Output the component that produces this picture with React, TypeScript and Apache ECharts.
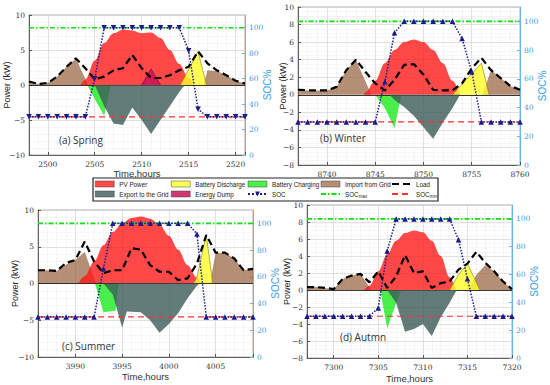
import React, { useEffect, useRef } from "react";
import * as echarts from "echarts";

type Pt = [number, number];

// ---------- (a) Spring, hours 2498..2521 ----------
const springStart = 2498;
const springLoad = [0.5, 0.15, 0.3, 1.2, 2.6, 3.8, 2.4, 0.8, 1.2, 2.1, 2.4, 4.3, 2.4, 1.0, 1.0, 1.4, 2.1, 2.6, 4.8, 3.1, 2.1, 1.4, 0.6, 0.2];
const springSOC = [30, 30, 30, 30, 30, 30, 30, 60, 100, 100, 100, 100, 100, 100, 100, 100, 100, 82, 36, 30, 30, 30, 30, 30];
const springPV: Pt[] = [[2503.5, 0], [2504, 0.8], [2505, 3.5], [2506, 6.0], [2507, 7.4], [2508, 7.9], [2509, 7.8], [2510, 7.4], [2511, 7.5], [2512, 6.7], [2513, 5.0], [2514, 3.0], [2515, 1.0], [2515.6, 0]];
const springImport: Pt[] = [[2498, 0.5], [2499, 0.15], [2500, 0.3], [2501, 1.2], [2502, 2.6], [2503, 3.8], [2504.3, 0], [2516.6, 0], [2517, 2.1], [2518, 2.0], [2519, 1.4], [2520, 0.6], [2521, 0.2]];
const springDischarge: Pt[] = [[2514.1, 0], [2515, 2.2], [2516, 4.8], [2516.9, 0]];
const springCharge: Pt[] = [[2504.2, 0], [2505, -2.0], [2506, -4.4], [2506.7, 0]];
const springExport: Pt[] = [[2505, 0], [2506, -3.0], [2507, -5.5], [2508, -5.7], [2509, -3.2], [2510, -5.0], [2511, -7.0], [2512, -5.0], [2513, -3.0], [2514, -1.0], [2514.6, 0]];
const springDump: Pt[] = [[2510, 0], [2511, 2.3], [2512, 0]];

// ---------- (b) Winter, hours 8737..8760 ----------
const winterStart = 8737;
const winterLoad = [0.57, 0.5, 0.5, 0.5, 0.9, 2.8, 4.0, 2.6, 1.3, 0.5, 1.7, 3.4, 3.5, 2.3, 0.57, 0.5, 0.5, 1.3, 3.0, 4.2, 2.8, 1.9, 1.0, 0.57];
const winterSOC = [30, 30, 30, 30, 30, 30, 30, 30, 30, 58, 92, 100, 100, 100, 100, 100, 100, 88, 65, 30, 30, 30, 30, 30];
const winterPV: Pt[] = [[8743.8, 0], [8744, 0.3], [8745, 1.6], [8746, 3.6], [8747, 5.1], [8748, 6.0], [8749, 6.3], [8750, 6.0], [8751, 5.1], [8752, 3.6], [8753, 1.6], [8753.8, 0]];
const winterImport: Pt[] = [[8737, 0.57], [8738, 0.5], [8739, 0.5], [8740, 0.5], [8741, 0.9], [8742, 2.8], [8743, 4.0], [8744.6, 0], [8756.1, 0], [8757, 2.8], [8758, 1.9], [8759, 1.0], [8760, 0.57]];
const winterDischarge: Pt[] = [[8753, 0], [8754, 1.2], [8755, 2.4], [8756, 3.6], [8756.8, 0]];
const winterCharge: Pt[] = [[8745, 0], [8746, -1.5], [8747, -3.8], [8747.7, 0]];
const winterExport: Pt[] = [[8746.5, 0], [8747, -0.6], [8748, -1.4], [8749, -2.4], [8750, -3.7], [8751, -5.0], [8752, -3.2], [8753, -1.5], [8753.8, 0]];

// ---------- (c) Summer, hours 3986..4009 ----------
const summerStart = 3986;
const summerLoad = [1.8, 1.8, 1.7, 2.8, 3.2, 5.7, 3.0, 1.4, 1.8, 1.8, 4.8, 4.6, 2.5, 1.6, 1.6, 0.45, 0.7, 2.7, 6.6, 4.2, 4.2, 3.4, 1.8, 2.0];
const summerSOC = [30, 30, 30, 30, 30, 30, 30, 66, 100, 100, 100, 100, 100, 100, 100, 100, 100, 92, 30, 30, 30, 30, 30, 30];
const summerPV: Pt[] = [[3990.3, 0], [3991, 1.0], [3992, 3.0], [3993, 5.2], [3994, 7.0], [3995, 8.2], [3996, 8.9], [3997, 9.1], [3998, 8.8], [3999, 8.0], [4000, 6.5], [4001, 4.6], [4002, 2.5], [4003, 0.8], [4003.5, 0]];
const summerImport: Pt[] = [[3986, 1.8], [3987, 1.8], [3988, 1.7], [3989, 2.6], [3990, 3.2], [3991, 4.3], [3992.2, 0], [4004.4, 0], [4005, 4.2], [4006, 4.2], [4007, 3.4], [4008, 1.8], [4009, 2.0]];
const summerDischarge: Pt[] = [[4002.6, 0], [4003, 0.8], [4004, 6.6], [4004.7, 0]];
const summerCharge: Pt[] = [[3992.1, 0], [3993, -3.9], [3994.3, -3.7], [3994.6, 0]];
const summerExport: Pt[] = [[3993, 0], [3994, -1.5], [3995, -6.0], [3995.5, -3.8], [3997, -3.9], [3998, -5.0], [3999, -6.7], [4000, -5.5], [4001, -4.0], [4002, -2.0], [4003, -0.3], [4003.3, 0]];

// ---------- (d) Autumn, hours 7297..7320 ----------
const autumnStart = 7297;
const autumnLoad = [0.35, 0.35, 0.25, 0.1, 1.3, 1.7, 1.9, 0.9, 2.2, 0.25, 1.6, 4.1, 2.0, 2.2, 0.25, 0.8, 1.0, 2.4, 3.1, 4.5, 3.2, 2.2, 1.0, 0.1];
const autumnSOC = [30, 30, 30, 30, 30, 30, 30, 30, 36, 77, 100, 100, 100, 100, 100, 100, 100, 85, 57, 30, 30, 30, 30, 30];
const autumnPV: Pt[] = [[7303.4, 0], [7304, 0.5], [7305, 2.2], [7306, 4.2], [7307, 5.8], [7308, 6.7], [7309, 7.0], [7310, 6.8], [7311, 5.8], [7312, 4.0], [7313, 1.5], [7313.7, 0]];
const autumnImport: Pt[] = [[7297, 0.35], [7298, 0.35], [7299, 0.25], [7300, 0.1], [7301, 1.3], [7302, 1.7], [7303, 1.9], [7304.2, 0], [7315.1, 0], [7316, 1.8], [7317, 2.9], [7318, 2.2], [7319, 1.0], [7320, 0.1]];
const autumnDischarge: Pt[] = [[7313, 0], [7314, 1.8], [7315, 3.1], [7316.4, 0]];
const autumnCharge: Pt[] = [[7305.2, 0], [7306, -4.5], [7307, -1.5], [7307.6, 0]];
const autumnExport: Pt[] = [[7306, 0], [7307, -1.5], [7308, -4.9], [7309, -4.6], [7310, -4.0], [7311, -5.4], [7312, -3.2], [7313, -1.5], [7313.8, 0]];

// SOC limits (%)
const socMaxLevel = 100;
const socMinLevel = 30;

// x tick label step (hours)
const xTickStep = 5;

// legend layout (names)
const legendColumns = [
  ["PV Power", "Export to the Grid"],
  ["Battery Discharge", "Energy Dump"],
  ["Battery Charging", "SOC"],
  ["Import from Grid", "SOCmax"],
  ["Load", "SOCmin"],
];
const areaNames = ["PV Power", "Export to the Grid", "Battery Discharge", "Energy Dump", "Battery Charging", "Import from Grid"];
const plainLineNames = ["Load", "SOCmax", "SOCmin"];

const COL = {
  pv: "rgba(255,20,20,0.78)",
  dis: "rgba(255,255,40,0.8)",
  chg: "rgba(30,235,30,0.8)",
  imp: "rgba(150,95,60,0.7)",
  exp: "rgba(60,90,87,0.8)",
  dump: "rgba(200,20,90,0.85)",
  soc: "#1a1a8a",
  load: "#000",
  socMax: "#10e010",
  socMin: "#ff3030",
  blue: "#3d9be0",
};

const panels = [
  {
    label: "(a) Spring", start: springStart, load: springLoad, soc: springSOC, pv: springPV, imp: springImport,
    dis: springDischarge, chg: springCharge, exp: springExport, dump: springDump as Pt[] | null, rot: 180,
    yMin: -10, yMax: 10, yInt: 5, yMinor: 5,
    grid: { left: 29, top: 15, width: 216, height: 140 }, lGap: 18, rGap: 17, xName: "Time,hours", xGap: 13, lab: [59, 140],
  },
  {
    label: "(b) Winter", start: winterStart, load: winterLoad, soc: winterSOC, pv: winterPV, imp: winterImport,
    dis: winterDischarge, chg: winterCharge, exp: winterExport, dump: null, rot: 0,
    yMin: -8, yMax: 10, yInt: 2, yMinor: 4,
    grid: { left: 298, top: 7, width: 222, height: 158 }, lGap: 11, rGap: 17, xName: "", xGap: 13, lab: [320, 138],
  },
  {
    label: "(c) Summer", start: summerStart, load: summerLoad, soc: summerSOC, pv: summerPV, imp: summerImport,
    dis: summerDischarge, chg: summerCharge, exp: summerExport, dump: null, rot: 0,
    yMin: -10, yMax: 10, yInt: 5, yMinor: 5,
    grid: { left: 38, top: 210, width: 215, height: 147 }, lGap: 19, rGap: 17, xName: "Time,hours", xGap: 14, lab: [62, 346],
  },
  {
    label: "(d) Autmn", start: autumnStart, load: autumnLoad, soc: autumnSOC, pv: autumnPV, imp: autumnImport,
    dis: autumnDischarge, chg: autumnCharge, exp: autumnExport, dump: null, rot: 0,
    yMin: -8, yMax: 10, yInt: 2, yMinor: 4,
    grid: { left: 307, top: 205, width: 205, height: 153 }, lGap: 16, rGap: 17, xName: "Time,hours", xGap: 15, lab: [340, 337],
  },
];

const minus = (v: number) => (v < 0 ? "\u2212" + Math.abs(v) : String(v));

function buildOption() {
  const grid: any[] = [];
  const xAxis: any[] = [];
  const yAxis: any[] = [];
  const series: any[] = [];
  const graphic: any[] = [];

  panels.forEach((p, i) => {
    const end = p.start + p.load.length - 1;
    const hourly = (vals: number[]) => vals.map((v, k) => [p.start + k, v]);
    grid.push({ ...p.grid, show: true, borderColor: "#9a9a9a", borderWidth: 0.8, backgroundColor: "#fff" });
    xAxis.push({
      type: "value", gridIndex: i, min: p.start, max: end,
      name: p.xName, nameLocation: "middle", nameGap: p.xGap, nameMoveOverlap: false,
      nameTextStyle: { fontFamily: "Liberation Sans", fontSize: 9.5, color: "#333" },
      axisLine: { show: true, onZero: false, lineStyle: { color: "#555", width: 0.9 } },
      axisTick: { show: true, inside: true, length: 3, lineStyle: { color: "#555" } },
      axisLabel: {
        showMinLabel: true, showMaxLabel: true, fontFamily: "DejaVu Serif", fontSize: 7.5, color: "#333", margin: 5,
        formatter: (v: number) => (Math.abs(v % xTickStep) < 1e-6 ? String(v) : ""),
      },
      splitLine: { show: true, lineStyle: { color: "#d2d2d2", width: 0.7 } },
      minorTick: { show: false, splitNumber: 5 },
      minorSplitLine: { show: true, lineStyle: { color: "#e0e0e0", width: 0.6, type: "dotted" } },
    });
    yAxis.push({
      type: "value", gridIndex: i, position: "left", min: p.yMin, max: p.yMax, interval: p.yInt,
      name: "Power (kW)", nameLocation: "middle", nameGap: p.lGap, nameRotate: 90, nameMoveOverlap: false,
      nameTextStyle: { fontFamily: "Liberation Sans", fontSize: 9, color: "#222" },
      axisLine: { show: true, onZero: false, lineStyle: { color: "#555", width: 0.9 } },
      axisTick: { show: true, inside: true, length: 3, lineStyle: { color: "#555" } },
      axisLabel: { fontFamily: "DejaVu Serif", fontSize: 7.5, color: "#333", margin: 4, formatter: minus },
      splitLine: { show: true, lineStyle: { color: "#d2d2d2", width: 0.7 } },
      minorTick: { show: false, splitNumber: p.yMinor },
      minorSplitLine: { show: true, lineStyle: { color: "#e0e0e0", width: 0.6, type: "dotted" } },
    });
    yAxis.push({
      type: "value", gridIndex: i, position: "right", min: 0, max: 110, interval: 20,
      name: "SOC%", nameLocation: "middle", nameGap: p.rGap, nameRotate: 90, nameMoveOverlap: false,
      nameTextStyle: { fontFamily: "Liberation Sans", fontSize: 10, color: COL.blue },
      axisLine: { show: true, onZero: false, lineStyle: { color: "#6ab4ea", width: 1 } },
      axisTick: { show: true, inside: true, length: 3, lineStyle: { color: "#6ab4ea" } },
      axisLabel: { showMaxLabel: false, fontFamily: "DejaVu Serif", fontSize: 7.5, color: COL.blue, margin: 4 },
      splitLine: { show: false },
    });

    const L = 2 * i, R = 2 * i + 1;
    const area = (name: string, data: any[], color: string, z: number, extra: any = {}) => ({
      type: "line", name, data, xAxisIndex: i, yAxisIndex: L, symbol: "none", z,
      itemStyle: { color }, lineStyle: { width: 0 }, areaStyle: { color, opacity: 1 }, ...extra,
    });
    series.push(area("Import from Grid", p.imp, COL.imp, 2));
    series.push(area("PV Power", p.pv, COL.pv, 3, { smooth: 0.35, smoothMonotone: "x" }));
    series.push(area("Battery Discharge", p.dis, COL.dis, 4, { lineStyle: { width: 0.6, color: "#8a7a00" } }));
    series.push(area("Battery Charging", p.chg, COL.chg, 4));
    series.push(area("Export to the Grid", p.exp, COL.exp, 5, {
      markLine: {
        silent: true, symbol: ["none", "none"], label: { show: false },
        lineStyle: { color: "#222", width: 0.9, type: "solid" }, data: [{ yAxis: 0 }],
      },
    }));
    if (p.dump) series.push(area("Energy Dump", p.dump, COL.dump, 6, { lineStyle: { width: 0.6, color: "#700030" } }));
    else series.push(area("Energy Dump", [], COL.dump, 6));

    series.push({
      type: "line", name: "SOCmax", xAxisIndex: i, yAxisIndex: R, symbol: "none", z: 7,
      data: [[p.start, socMaxLevel], [end, socMaxLevel]],
      itemStyle: { color: COL.socMax }, lineStyle: { color: COL.socMax, width: 1.6, type: [5, 2, 1.5, 2] },
    });
    series.push({
      type: "line", name: "SOCmin", xAxisIndex: i, yAxisIndex: R, symbol: "none", z: 7,
      data: [[p.start, socMinLevel], [end, socMinLevel]],
      itemStyle: { color: COL.socMin }, lineStyle: { color: COL.socMin, width: 1.2, type: [6, 4] },
    });
    series.push({
      type: "line", name: "Load", xAxisIndex: i, yAxisIndex: L, symbol: "none", z: 8,
      data: hourly(p.load), itemStyle: { color: COL.load }, lineStyle: { color: COL.load, width: 2.2, type: [7, 4] },
    });
    series.push({
      type: "line", name: "SOC", xAxisIndex: i, yAxisIndex: R, z: 9,
      data: hourly(p.soc), symbol: "triangle", symbolSize: 5.5, symbolRotate: p.rot,
      itemStyle: { color: COL.soc }, lineStyle: { color: COL.soc, width: 1.5, type: "dotted" },
    });

    graphic.push({
      type: "text", x: p.lab[0], y: p.lab[1], z: 20,
      style: { text: p.label, fontFamily: "Open Sans", fontSize: 10, fill: "#333", align: "left", verticalAlign: "middle" },
    });
  });

  graphic.push({
    type: "rect", z: 1, shape: { x: 93, y: 178, width: 345, height: 23 },
    style: { fill: "#fff", stroke: "#222", lineWidth: 1.2 },
  });

  const legendLefts = [95, 171, 247, 320, 391];
  const legend = legendColumns.map((names, c) => ({
    orient: "vertical", left: legendLefts[c], top: 180, itemGap: 2, itemWidth: 19, itemHeight: 6, padding: 0,
    selectedMode: false, z: 10,
    data: names.map((n) =>
      areaNames.includes(n)
        ? { name: n, icon: "rect", itemStyle: { borderColor: "#444", borderWidth: 0.5 } }
        : plainLineNames.includes(n)
        ? { name: n, itemStyle: { opacity: 0 } }
        : { name: n }
    ),
    formatter: (n: string) => (n === "SOCmax" ? "SOC{s|max}" : n === "SOCmin" ? "SOC{s|min}" : n),
    textStyle: {
      fontSize: 6.3, fontFamily: "Liberation Sans", color: "#222", lineHeight: 8,
      rich: { s: { fontSize: 4.5, padding: [4, 0, 0, 0], color: "#222" } },
    },
  }));

  return { animation: false, backgroundColor: "#fff", grid, xAxis, yAxis, series, legend, graphic };
}

export default function App() {
  const ref = useRef<HTMLDivElement>(null);
  useEffect(() => {
    if (!ref.current) return;
    const chart = echarts.init(ref.current, null, { renderer: "svg" });
    chart.setOption(buildOption() as any);
    return () => chart.dispose();
  }, []);
  return <div ref={ref} style={{ position: "fixed", left: 0, top: 0, width: 550, height: 385 }} />;
}
